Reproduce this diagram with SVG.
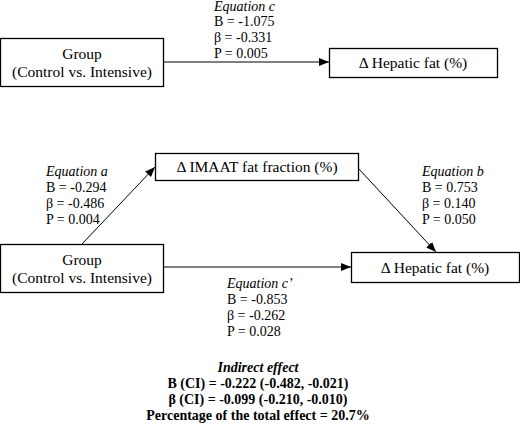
<svg xmlns="http://www.w3.org/2000/svg" width="520" height="428" viewBox="0 0 520 428">
<style>
.box{fill:#fff;stroke:#000;stroke-width:1.3}
.lbl{font-family:'Liberation Serif','Times New Roman',Times,'DejaVu Serif',serif;font-size:15.5px;fill:#000;text-anchor:middle}
.eq{font-family:'Liberation Serif','Times New Roman',Times,'DejaVu Serif',serif;font-size:14px;fill:#000}
.it{font-style:italic}
.b{font-family:'Liberation Serif','Times New Roman',Times,'DejaVu Serif',serif;font-size:14px;font-weight:bold;fill:#000;text-anchor:middle}
.ln{stroke:#000;stroke-width:1;fill:none;marker-end:url(#ah)}
</style>
<defs>
<marker id="ah" viewBox="0 0 10 10" refX="10" refY="5" markerWidth="10" markerHeight="10" markerUnits="userSpaceOnUse" orient="auto">
<path d="M0,1 L10,5 L0,9 Z" fill="#000"/>
</marker>
</defs>
<rect width="520" height="428" fill="#fff"/>
<g id="connectors">
<line class="ln" x1="163" y1="62" x2="329" y2="62"/>
<line class="ln" x1="82" y1="244" x2="155" y2="167"/>
<line class="ln" x1="358" y1="168" x2="436" y2="252"/>
<line class="ln" x1="163" y1="267" x2="351" y2="267"/>
</g>
<g id="group1">
<rect class="box" x="0.5" y="38.5" width="163" height="48"/>
<text class="lbl" x="82" y="59">Group</text>
<text class="lbl" x="82" y="77">(Control vs. Intensive)</text>
</g>
<g id="hepatic1">
<rect class="box" x="329.5" y="48.5" width="168" height="29"/>
<text class="lbl" x="413" y="68">Δ Hepatic fat (%)</text>
</g>
<g id="imaat">
<rect class="box" x="155.5" y="153.5" width="203" height="27"/>
<text class="lbl" x="257" y="172">Δ IMAAT fat fraction (%)</text>
</g>
<g id="group2">
<rect class="box" x="0.5" y="244.5" width="163" height="48"/>
<text class="lbl" x="82" y="265">Group</text>
<text class="lbl" x="82" y="283">(Control vs. Intensive)</text>
</g>
<g id="hepatic2">
<rect class="box" x="351.5" y="252.5" width="168" height="30"/>
<text class="lbl" x="435" y="273">Δ Hepatic fat (%)</text>
</g>
<g id="eq-c">
<text class="eq it" x="214" y="11">Equation c</text>
<text class="eq" x="214" y="26">B = -1.075</text>
<text class="eq" x="214" y="42">β = -0.331</text>
<text class="eq" x="214" y="58">P = 0.005</text>
</g>
<g id="eq-a">
<text class="eq it" x="46" y="176">Equation a</text>
<text class="eq" x="46" y="192">B = -0.294</text>
<text class="eq" x="46" y="208">β = -0.486</text>
<text class="eq" x="46" y="224">P = 0.004</text>
</g>
<g id="eq-b">
<text class="eq it" x="422" y="176">Equation b</text>
<text class="eq" x="422" y="192">B = 0.753</text>
<text class="eq" x="422" y="208">β = 0.140</text>
<text class="eq" x="422" y="224">P = 0.050</text>
</g>
<g id="eq-cp">
<text class="eq it" x="227" y="288">Equation c’</text>
<text class="eq" x="227" y="304">B = -0.853</text>
<text class="eq" x="227" y="320">β = -0.262</text>
<text class="eq" x="227" y="336">P = 0.028</text>
</g>
<g id="indirect">
<text class="b" x="258" y="372" font-style="italic">Indirect effect</text>
<text class="b" x="258" y="388">B (CI) = -0.222 (-0.482, -0.021)</text>
<text class="b" x="258" y="404">β (CI) = -0.099 (-0.210, -0.010)</text>
<text class="b" x="258" y="420">Percentage of the total effect = 20.7%</text>
</g>
</svg>
